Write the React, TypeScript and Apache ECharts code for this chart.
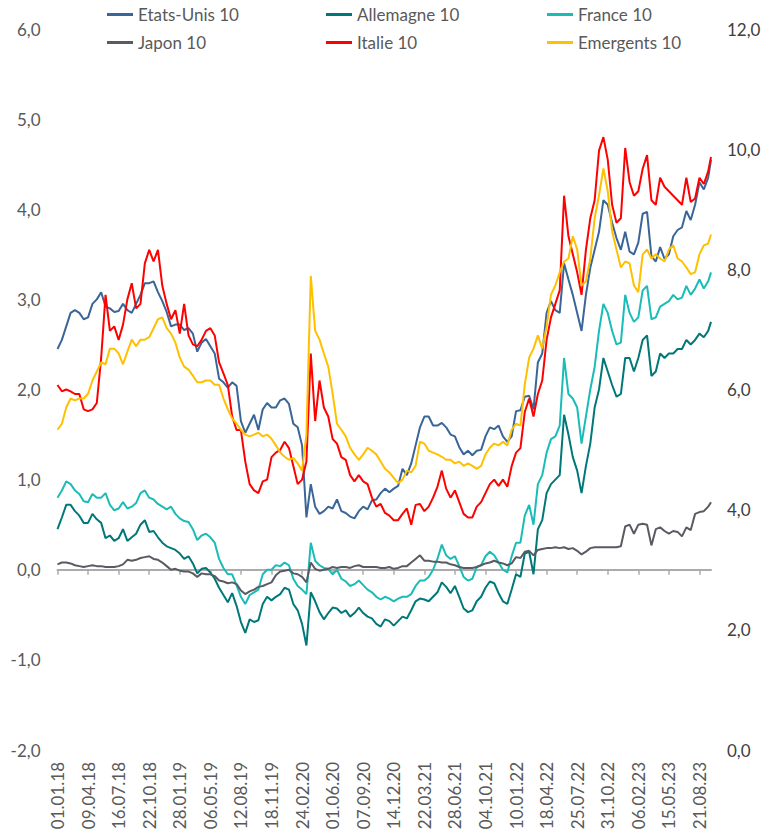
import { useEffect, useRef } from 'react';
import * as echarts from 'echarts';

// Sampling grid: every 14 days from 01.01.2018, last point 27.09.2023 (day offsets)
const startDate = Date.UTC(2018, 0, 1);
const DAY = 86400000;
const sampleDays = [...Array.from({ length: 150 }, (_, i) => i * 14), 2095];

const xTickLabels = [
  '01.01.18', '09.04.18', '16.07.18', '22.10.18', '28.01.19', '06.05.19', '12.08.19', '18.11.19',
  '24.02.20', '01.06.20', '07.09.20', '14.12.20', '22.03.21', '28.06.21', '04.10.21', '10.01.22',
  '18.04.22', '25.07.22', '31.10.22', '06.02.23', '15.05.23', '21.08.23',
];

const seriesNames = ['Etats-Unis 10', 'Allemagne 10', 'France 10', 'Japon 10', 'Italie 10', 'Emergents 10'];

const etatsUnis = [
  2.45, 2.55, 2.70, 2.85, 2.88, 2.85, 2.78, 2.80, 2.95, 3.00,
  3.08, 2.92, 2.90, 2.86, 2.87, 2.95, 2.88, 2.85, 2.95, 3.05,
  3.18, 3.18, 3.20, 3.08, 2.98, 2.86, 2.70, 2.72, 2.72, 2.66,
  2.68, 2.62, 2.42, 2.52, 2.56, 2.48, 2.40, 2.12, 2.08, 2.02,
  2.08, 2.04, 1.65, 1.52, 1.62, 1.72, 1.55, 1.78, 1.85, 1.80,
  1.80, 1.88, 1.90, 1.84, 1.62, 1.58, 1.38, 0.58, 0.95, 0.70,
  0.62, 0.65, 0.70, 0.68, 0.78, 0.65, 0.63, 0.59, 0.57, 0.65,
  0.70, 0.67, 0.77, 0.78, 0.85, 0.90, 0.86, 0.90, 0.93, 1.12,
  1.05, 1.18, 1.38, 1.58, 1.70, 1.70, 1.60, 1.60, 1.63, 1.58,
  1.50, 1.48, 1.36, 1.28, 1.32, 1.27, 1.32, 1.33, 1.48, 1.58,
  1.56, 1.60, 1.48, 1.42, 1.48, 1.76, 1.77, 1.92, 1.93, 1.78,
  2.30, 2.40, 2.85, 2.98, 2.88, 2.85, 3.40, 3.22, 3.05, 2.85,
  2.65, 3.05, 3.35, 3.55, 3.75, 4.10, 4.05, 3.85, 3.68, 3.55,
  3.75, 3.53, 3.50, 3.63, 3.95, 3.97, 3.48, 3.42, 3.58, 3.45,
  3.50, 3.70, 3.77, 3.80, 3.98, 3.88, 4.05, 4.30, 4.22, 4.35,
  4.55,
];

const allemagne = [
  0.45, 0.58, 0.72, 0.72, 0.65, 0.60, 0.52, 0.52, 0.62, 0.56,
  0.52, 0.35, 0.38, 0.32, 0.35, 0.45, 0.32, 0.36, 0.40, 0.50,
  0.55, 0.42, 0.43, 0.36, 0.30, 0.26, 0.24, 0.22, 0.18, 0.12,
  0.15, 0.07, -0.04, 0.01, 0.02, -0.03, -0.10, -0.20, -0.28, -0.36,
  -0.26, -0.40, -0.58, -0.70, -0.55, -0.58, -0.56, -0.38, -0.30, -0.34,
  -0.30, -0.27, -0.20, -0.22, -0.38, -0.45, -0.60, -0.84, -0.25, -0.35,
  -0.47, -0.55, -0.48, -0.42, -0.43, -0.48, -0.45, -0.52, -0.48, -0.42,
  -0.48, -0.52, -0.54, -0.60, -0.63, -0.55, -0.57, -0.62, -0.57, -0.52,
  -0.54, -0.45, -0.35, -0.32, -0.33, -0.35, -0.30, -0.25, -0.14, -0.19,
  -0.26, -0.18, -0.30, -0.43, -0.47, -0.45, -0.35, -0.30, -0.20, -0.13,
  -0.15, -0.26, -0.35, -0.38, -0.22, -0.05, -0.08, 0.18, 0.20, -0.05,
  0.45, 0.55, 0.85, 0.95, 1.00, 1.05, 1.72, 1.50, 1.25, 1.10,
  0.85, 1.15, 1.40, 1.80, 2.00, 2.35, 2.20, 2.05, 1.92, 1.95,
  2.35, 2.35, 2.20, 2.35, 2.55, 2.60, 2.15, 2.20, 2.40, 2.35,
  2.40, 2.40, 2.45, 2.45, 2.55, 2.50, 2.55, 2.62, 2.58, 2.65,
  2.75,
];

const france = [
  0.80, 0.88, 0.98, 0.95, 0.88, 0.84, 0.76, 0.75, 0.84, 0.80,
  0.80, 0.85, 0.72, 0.66, 0.68, 0.75, 0.68, 0.70, 0.74, 0.85,
  0.88, 0.80, 0.78, 0.73, 0.70, 0.67, 0.70, 0.62, 0.57, 0.54,
  0.53, 0.45, 0.33, 0.38, 0.40, 0.36, 0.30, 0.12, 0.02, -0.05,
  -0.05, -0.17, -0.30, -0.38, -0.28, -0.25, -0.22, -0.05, 0.00, 0.00,
  0.05, 0.04, 0.08, 0.05, -0.10, -0.18, -0.22, -0.27, 0.30, 0.10,
  0.05, 0.02, 0.01, -0.05, 0.00, -0.10, -0.13, -0.18, -0.16, -0.12,
  -0.17, -0.22, -0.25, -0.30, -0.33, -0.30, -0.32, -0.35, -0.32, -0.30,
  -0.30, -0.27, -0.18, -0.12, -0.12, -0.08, 0.00, 0.12, 0.28, 0.16,
  0.12, 0.15, 0.04, -0.08, -0.12, -0.10, 0.03, 0.05, 0.15, 0.20,
  0.16, 0.08, 0.00, -0.03, 0.15, 0.30, 0.30, 0.60, 0.72, 0.50,
  0.95, 1.05, 1.30, 1.45, 1.48, 1.60, 2.35, 1.95, 1.90, 1.80,
  1.40, 1.70, 2.00, 2.25, 2.65, 2.95, 2.85, 2.65, 2.50, 2.52,
  3.05, 2.85, 2.75, 2.80, 3.10, 3.15, 2.78, 2.80, 2.92, 2.95,
  2.98, 3.05, 3.00, 3.02, 3.15, 3.05, 3.12, 3.22, 3.12, 3.20,
  3.30,
];

const japon = [
  0.06, 0.08, 0.08, 0.07, 0.05, 0.04, 0.03, 0.04, 0.05, 0.04,
  0.04, 0.03, 0.03, 0.03, 0.04, 0.06, 0.11, 0.10, 0.11, 0.13,
  0.14, 0.15, 0.12, 0.11, 0.08, 0.04, 0.00, 0.01, -0.01, -0.02,
  -0.02, -0.04, -0.08, -0.04, -0.05, -0.05, -0.07, -0.12, -0.13, -0.15,
  -0.14, -0.16, -0.23, -0.27, -0.24, -0.22, -0.19, -0.18, -0.16, -0.14,
  -0.06, -0.02, -0.01, 0.00, -0.04, -0.05, -0.08, -0.14, 0.08, 0.01,
  -0.01, 0.00, 0.01, 0.03, 0.02, 0.03, 0.03, 0.02, 0.04, 0.05,
  0.03, 0.03, 0.03, 0.03, 0.02, 0.02, 0.03, 0.01, 0.02, 0.04,
  0.04, 0.08, 0.12, 0.16, 0.10, 0.10, 0.09, 0.09, 0.08, 0.08,
  0.06, 0.05, 0.03, 0.02, 0.02, 0.02, 0.03, 0.05, 0.07, 0.08,
  0.10, 0.08, 0.07, 0.05, 0.07, 0.14, 0.13, 0.20, 0.21, 0.16,
  0.22, 0.23, 0.24, 0.24, 0.25, 0.24, 0.25, 0.23, 0.24, 0.21,
  0.17, 0.20, 0.24, 0.25, 0.25, 0.25, 0.25, 0.25, 0.25, 0.26,
  0.48, 0.50, 0.40, 0.50, 0.51, 0.50, 0.27, 0.45, 0.47, 0.43,
  0.40, 0.43, 0.42, 0.37, 0.47, 0.44, 0.62, 0.64, 0.65, 0.70,
  0.75,
];

const italie = [
  2.05, 1.98, 2.00, 1.98, 1.95, 1.95, 1.78, 1.76, 1.78, 1.85,
  2.35, 3.05, 2.65, 2.70, 2.55, 2.72, 3.00, 3.18, 2.90, 2.95,
  3.40, 3.55, 3.42, 3.55, 3.15, 2.95, 2.78, 2.88, 2.62, 2.95,
  2.60, 2.50, 2.48, 2.55, 2.65, 2.68, 2.60, 2.30, 2.18, 2.05,
  1.70, 1.55, 1.55, 1.20, 0.95, 0.88, 0.85, 0.98, 1.00, 1.25,
  1.30, 1.33, 1.42, 1.35, 1.15, 0.95, 1.00, 1.20, 2.40, 1.65,
  2.10, 1.80, 1.70, 1.45, 1.40, 1.25, 1.22, 1.05, 0.98, 1.05,
  0.98, 0.95, 0.80, 0.70, 0.73, 0.63, 0.60, 0.55, 0.55, 0.62,
  0.68, 0.50, 0.72, 0.73, 0.65, 0.70, 0.80, 0.92, 1.10, 0.90,
  0.80, 0.88, 0.75, 0.62, 0.58, 0.58, 0.70, 0.75, 0.85, 0.95,
  1.00, 0.93, 1.00, 0.92, 1.15, 1.30, 1.35, 1.75, 1.90, 1.70,
  1.95, 2.10, 2.55, 2.80, 2.95, 3.10, 4.15, 3.70, 3.50, 3.30,
  3.05, 3.55, 3.90, 4.10, 4.65, 4.80, 4.55, 4.05, 3.85, 3.90,
  4.68, 4.30, 4.15, 4.20, 4.45, 4.60, 4.10, 4.05, 4.35, 4.25,
  4.20, 4.15, 4.10, 4.05, 4.35, 4.08, 4.12, 4.35, 4.28, 4.42,
  4.58,
];

// Emergents 10 is read on the right-hand axis (0 - 12)
const emergents = [
  5.33, 5.43, 5.70, 5.85, 5.82, 5.85, 5.85, 5.93, 6.15, 6.30,
  6.45, 6.42, 6.68, 6.68, 6.60, 6.42, 6.63, 6.83, 6.72, 6.83,
  6.83, 6.87, 7.02, 7.17, 7.20, 7.02, 6.93, 6.78, 6.53, 6.38,
  6.33, 6.23, 6.12, 6.12, 6.15, 6.15, 6.08, 6.08, 5.85, 5.67,
  5.52, 5.43, 5.33, 5.25, 5.22, 5.25, 5.28, 5.22, 5.25, 5.18,
  5.07, 4.95, 4.88, 4.83, 4.86, 4.77, 4.65, 5.25, 7.89, 6.98,
  6.83, 6.60, 6.38, 5.93, 5.43, 5.33, 5.22, 5.03, 4.92, 4.83,
  4.92, 5.03, 4.98, 4.92, 4.80, 4.68, 4.62, 4.53, 4.44, 4.50,
  4.65, 4.62, 4.73, 5.13, 5.10, 4.98, 4.95, 4.92, 4.88, 4.83,
  4.83, 4.77, 4.80, 4.73, 4.77, 4.73, 4.68, 4.73, 4.92, 5.03,
  5.10, 5.07, 5.13, 5.07, 5.33, 5.43, 5.40, 6.08, 6.53, 6.68,
  6.90, 6.68, 7.05, 7.58, 7.73, 7.95, 8.13, 8.18, 8.55, 8.33,
  7.73, 7.80, 8.18, 8.85, 9.23, 9.68, 9.30, 8.63, 8.33, 8.03,
  8.13, 8.10, 7.73, 7.62, 8.25, 8.33, 8.18, 8.25, 8.18, 8.13,
  8.33, 8.40, 8.18, 8.13, 8.03, 7.92, 7.95, 8.25, 8.40, 8.43,
  8.58,
];

const seriesValues = [etatsUnis, allemagne, france, japon, italie, emergents];
const seriesColors = ['#3A6598', '#00787A', '#1ABCB8', '#5A5A62', '#FF0000', '#FFC000'];
const seriesAxis = [0, 0, 0, 0, 0, 1];

const legendPos = [
  { left: 107, top: 6 }, { left: 326, top: 6 }, { left: 547, top: 6 },
  { left: 107, top: 34 }, { left: 326, top: 34 }, { left: 547, top: 34 },
];

const FONT = 'Lato, "Open Sans", sans-serif';

function labelToDay(s: string): number {
  const [dd, mm, yy] = s.split('.').map(Number);
  return Math.round((Date.UTC(2000 + yy, mm - 1, dd) - startDate) / DAY);
}

function dayToLabel(d: number): string {
  const dt = new Date(startDate + d * DAY);
  const p = (n: number) => String(n).padStart(2, '0');
  return `${p(dt.getUTCDate())}.${p(dt.getUTCMonth() + 1)}.${p(dt.getUTCFullYear() % 100)}`;
}

const commaFmt = (v: number) => v.toFixed(1).replace('.', ',');

export default function App() {
  const ref = useRef<HTMLDivElement>(null);

  useEffect(() => {
    if (!ref.current) return;
    const chart = echarts.init(ref.current, undefined, { renderer: 'svg' });
    const tickDays = xTickLabels.map(labelToDay);
    const maxDay = sampleDays[sampleDays.length - 1];

    const option: any = {
      animation: false,
      backgroundColor: '#ffffff',
      textStyle: { fontFamily: FONT },
      grid: { left: 57.5, right: 55, top: 29, bottom: 87, containLabel: false },
      legend: seriesNames.map((name, i) => ({
        data: [{ name, icon: 'rect', itemStyle: { color: seriesColors[i] } }],
        left: legendPos[i].left,
        top: legendPos[i].top,
        padding: 0,
        itemWidth: 26,
        itemHeight: 3,
        selectedMode: false,
        textStyle: { color: '#595959', fontSize: 17, fontFamily: FONT },
      })),
      xAxis: [
        {
          type: 'value',
          min: 0,
          max: maxDay,
          position: 'bottom',
          axisLine: { show: false, onZero: false },
          axisTick: { show: false },
          splitLine: { show: false },
          axisLabel: {
            customValues: tickDays,
            rotate: 90,
            margin: 12,
            color: '#595959',
            fontSize: 17,
            fontFamily: FONT,
            formatter: (v: number) => dayToLabel(v),
          },
        },
        {
          type: 'value',
          min: 0,
          max: maxDay,
          position: 'bottom',
          axisLine: {
            show: true,
            onZero: true,
            onZeroAxisIndex: 0,
            lineStyle: { color: '#ABABAB', width: 2 },
          },
          axisTick: {
            show: true,
            customValues: tickDays,
            length: 5,
            lineStyle: { color: '#ABABAB', width: 1.5 },
          },
          axisLabel: { show: false },
          splitLine: { show: false },
        },
      ],
      yAxis: [
        {
          type: 'value',
          min: -2,
          max: 6,
          interval: 1,
          position: 'left',
          axisLine: { show: false },
          axisTick: { show: false },
          splitLine: { show: false },
          axisLabel: { formatter: commaFmt, margin: 17, color: '#595959', fontSize: 17, fontFamily: FONT },
        },
        {
          type: 'value',
          min: 0,
          max: 12,
          interval: 2,
          position: 'right',
          axisLine: { show: false },
          axisTick: { show: false },
          splitLine: { show: false },
          axisLabel: { formatter: commaFmt, margin: 16, color: '#404040', fontSize: 17, fontFamily: FONT },
        },
      ],
      series: seriesNames.map((name, i) => ({
        name,
        type: 'line',
        xAxisIndex: 0,
        yAxisIndex: seriesAxis[i],
        symbol: 'none',
        showSymbol: false,
        color: seriesColors[i],
        lineStyle: { color: seriesColors[i], width: 2 },
        data: sampleDays.map((d, j) => [d, seriesValues[i][j]]),
        z: 2 + i,
      })),
    };

    chart.setOption(option);
    return () => chart.dispose();
  }, []);

  return (
    <div
      ref={ref}
      style={{ position: 'fixed', left: 0, top: 0, width: 766, height: 837, background: '#fff' }}
    />
  );
}
